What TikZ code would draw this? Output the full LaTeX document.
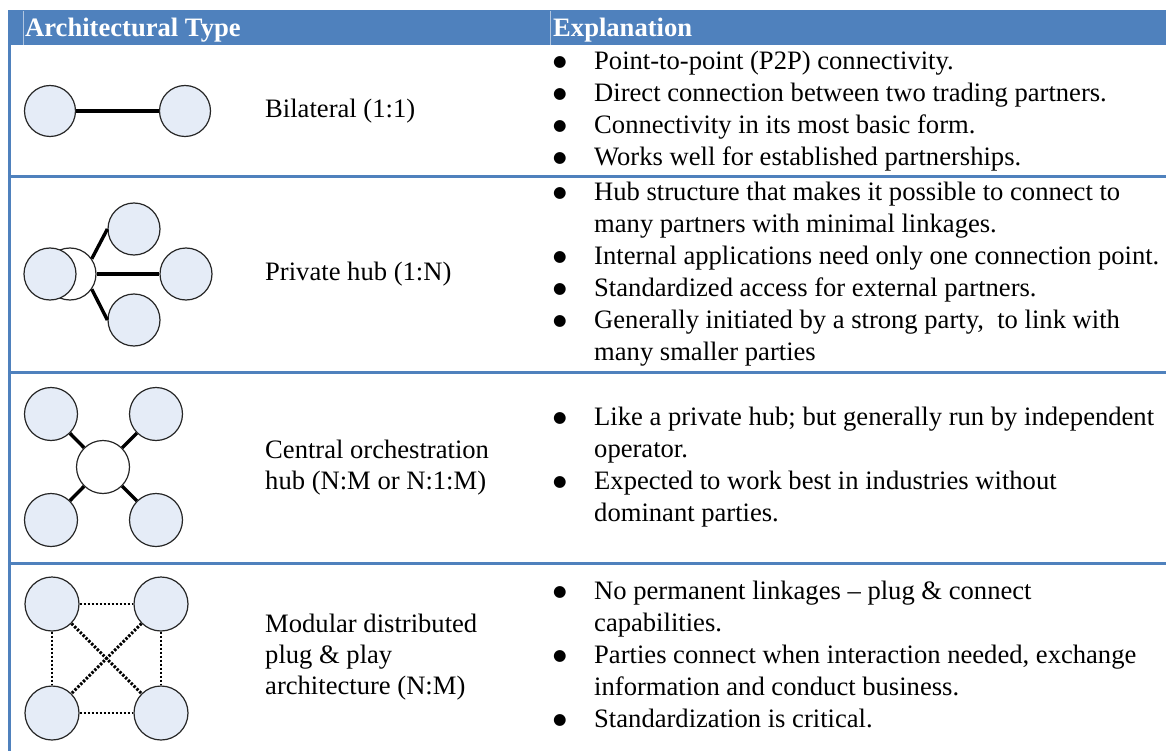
\documentclass[tikz,border=0pt]{standalone}
\usepackage{fontspec}
\setmainfont{Liberation Serif}
\newfontfamily\dotfont{DejaVu Sans}
\usepackage{array}
\definecolor{hdrblue}{HTML}{4F81BD}
\definecolor{partyfill}{HTML}{E5ECF7}
\newcommand{\bul}{\raisebox{3pt}{\dotfont\fontsize{15.5}{15}\selectfont ●}}

\begin{document}
\begin{tikzpicture}[x=1pt,y=-1pt,
  party/.style={circle,draw=black!85,line width=1.2pt,fill=partyfill,minimum size=52pt,inner sep=0pt},
  hubnode/.style={party,fill=white},
  link/.style={line width=3.4pt},
  plug/.style={line width=2.9pt,dash pattern=on 2.4pt off 1.6pt},
  rowline/.style={hdrblue,line width=3pt},
  hdr/.style={anchor=base west,inner sep=0pt,text=white,font=\fontsize{26.6}{32}\selectfont\bfseries},
  typelabel/.style={anchor=west,align=left,inner sep=0pt,font=\fontsize{26.6}{31}\selectfont},
  expl/.style={anchor=west,inner sep=0pt,font=\fontsize{26.6}{32}\selectfont}]
  \useasboundingbox (0,0) rectangle (1166,751);

  \fill[hdrblue] (8,10) rectangle (1166,45);
  \fill[hdrblue] (8,45) rectangle (11,751);
  \draw[hdrblue!45!white,line width=0.6pt] (23,11) -- (23,45);
  \draw[hdrblue!45!white,line width=0.6pt] (550,11) -- (550,45);
  \foreach \y in {177,372,563}
    \draw[rowline] (8,\y) -- (1166,\y);
  \node[hdr] (typehdr) at (25,37) {Architectural Type};
  \node[hdr] (explhdr) at (553,37) {Explanation};

  % bilateral
  \node[party,minimum size=51pt] (a1) at (50,111) {};
  \node[party,minimum size=51pt] (b1) at (185,111) {};
  \draw[link] (a1) -- (b1);
  \node[typelabel] (type1) at (265,111) {Bilateral (1:1)};

  % private hub
  \node[hubnode] (hub2) at (70,274) {};
  \node[party] (own2) at (50,274) {};
  \node[party] (up2) at (134,229) {};
  \node[party] (right2) at (186,274) {};
  \node[party] (down2) at (134,320) {};
  \draw[link] (hub2.35) -- (up2.west);
  \draw[link] (hub2) -- (right2);
  \draw[link] (hub2.-35) -- (down2.west);
  \node[typelabel] (type2) at (265,274.5) {Private hub (1:N)};

  % central orchestration hub
  \node[hubnode,minimum size=53pt] (hub3) at (103,467) {};
  \foreach \n/\x/\y in {tl3/51/414,tr3/156/414,bl3/51/520,br3/156/520} {
    \node[party,minimum size=53pt] (\n) at (\x,\y) {};
    \draw[link] (hub3) -- (\n);
  }
  \node[typelabel] (type3) at (265,467.5) {Central orchestration\\hub (N:M or N:1:M)};

  % modular plug & play
  \foreach \n/\x/\y in {tl4/52/604,tr4/161/604,bl4/52/713,br4/161/713}
    \node[party,minimum size=54pt] (\n) at (\x,\y) {};
  \foreach \p/\q in {tl4/tr4,bl4/br4,tl4/bl4,tr4/br4,tl4/br4,tr4/bl4}
    \draw[plug] (\p) -- (\q);
  \node[typelabel] (type4) at (265,657) {Modular distributed\\plug \& play\\architecture (N:M)};

  \node[expl] (expl1) at (553,111) {\begin{tabular}{@{}p{41pt}@{}l@{}}
    \bul & Point-to-point (P2P) connectivity.\\
    \bul & Direct connection between two trading partners.\\
    \bul & Connectivity in its most basic form.\\
    \bul & Works well for established partnerships.
  \end{tabular}};
  \node[expl] (expl2) at (553,274.5) {\begin{tabular}{@{}p{41pt}@{}l@{}}
    \bul & Hub structure that makes it possible to connect to\\
         & many partners with minimal linkages.\\
    \bul & Internal applications need only one connection point.\\
    \bul & Standardized access for external partners.\\
    \bul & Generally initiated by a strong party,\ \ to link with\\
         & many smaller parties
  \end{tabular}};
  \node[expl] (expl3) at (553,467.5) {\begin{tabular}{@{}p{41pt}@{}l@{}}
    \bul & Like a private hub; but generally run by independent\\
         & operator.\\
    \bul & Expected to work best in industries without\\
         & dominant parties.
  \end{tabular}};
  \node[expl] (expl4) at (553,657) {\begin{tabular}{@{}p{41pt}@{}l@{}}
    \bul & No permanent linkages -- plug \& connect\\
         & capabilities.\\
    \bul & Parties connect when interaction needed, exchange\\
         & information and conduct business.\\
    \bul & Standardization is critical.
  \end{tabular}};
\end{tikzpicture}
\end{document}
